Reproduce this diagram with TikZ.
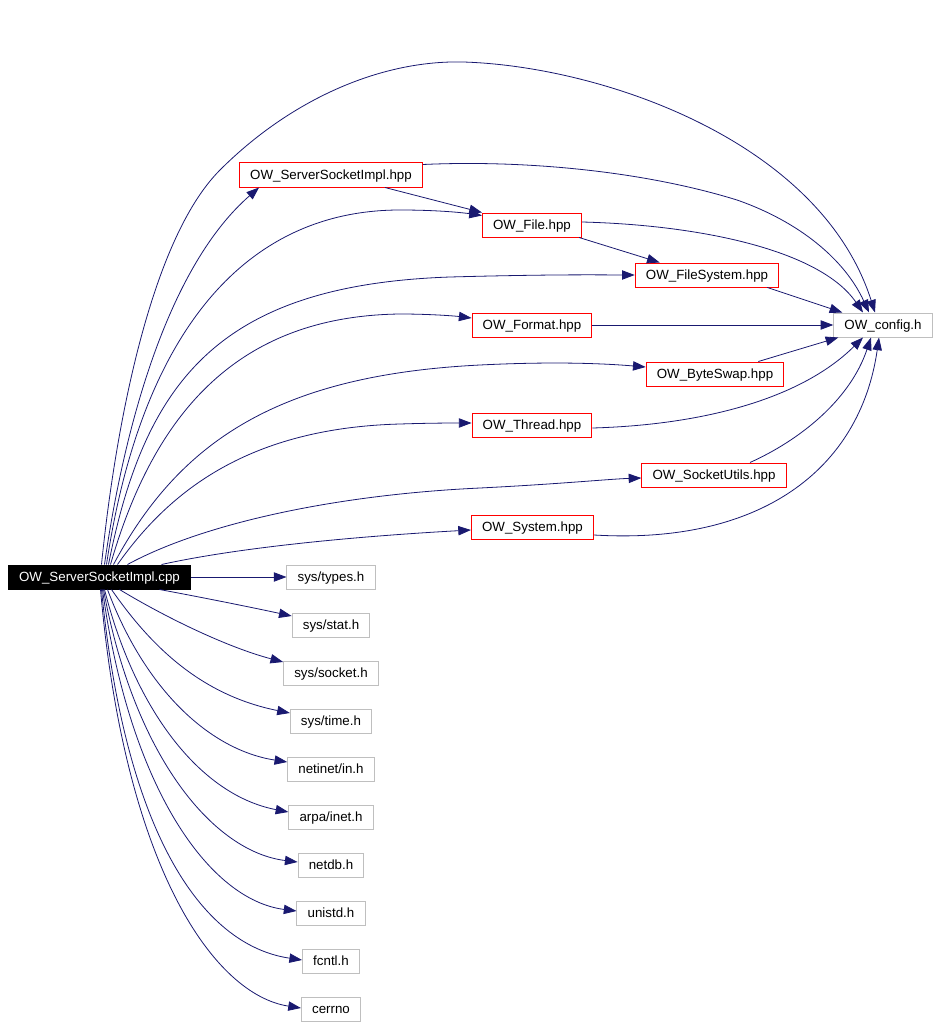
\documentclass[tikz,border=0pt]{standalone}
\usepackage{fontspec}
\setmainfont{Liberation Sans}
\usetikzlibrary{calc, arrows.meta}

\definecolor{edgeblue}{HTML}{191970}
\definecolor{incgrey}{HTML}{BFBFBF}

\begin{document}
\begin{tikzpicture}[
    x=0.75pt, y=-0.75pt,
    >={Triangle[length=9.5pt, width=7pt]},
    font=\fontsize{10}{12}\selectfont,
    box/.style={draw, rectangle, line width=0.75pt, minimum height=18pt, inner xsep=8pt, inner ysep=0pt, text height=8pt, text depth=1pt},
    hdrbox/.style={box, draw=red, fill=white},
    sysbox/.style={box, draw=incgrey, fill=white},
    rootbox/.style={box, draw=black, fill=black, text=white},
    dep/.style={->, draw=edgeblue, line width=0.6pt},
]
    \useasboundingbox (0,0) rectangle (939,1027);

    % Headers of the project
    \node[rootbox] (root) at (99.5,577) {OW\_ServerSocketImpl.cpp};
    \node[hdrbox] (ssh) at (331,175) {OW\_ServerSocketImpl.hpp};
    \node[hdrbox] (file) at (532,225) {OW\_File.hpp};
    \node[hdrbox] (fs) at (707,275) {OW\_FileSystem.hpp};
    \node[sysbox] (config) at (883,325) {OW\_config.h};
    \node[hdrbox] (format) at (532,325) {OW\_Format.hpp};
    \node[hdrbox] (bswap) at (715,374) {OW\_ByteSwap.hpp};
    \node[hdrbox] (thread) at (532,425) {OW\_Thread.hpp};
    \node[hdrbox] (sutils) at (714,475) {OW\_SocketUtils.hpp};
    \node[hdrbox] (system) at (532.5,527) {OW\_System.hpp};

    % System headers
    \foreach \n/\t [count=\k from 0] in {types/{sys/types.h}, stat/{sys/stat.h}, socket/{sys/socket.h}, time/{sys/time.h}, inet/{netinet/in.h}, arpa/{arpa/inet.h}, netdb/{netdb.h}, unistd/{unistd.h}, fcntl/{fcntl.h}, cerrno/{cerrno}} {
        \node[sysbox] (\n) at (331,{577+48*\k}) {\t};
    }

    % Upward edges from the source
    \draw[dep] ($(root.north)+(2,0)$) .. controls (115,430) and (150,240) .. (220,170)
        .. controls (290,100) and (380,60) .. (463,62)
        .. controls (600,66) and (820,140) .. ($(config.north)+(-8,0)$);
    \draw[dep] ($(root.north)+(5,0)$) .. controls (125,420) and (170,265) .. ($(ssh.south west)+(20,0)$);
    \draw[dep] ($(root.north)+(7,0)$) .. controls (140,340) and (240,210) .. (400,210)
        .. controls (440,210) and (465,213) .. ($(file.north west)+(0,3)$);
    \draw[dep] ($(root.north)+(9,0)$) .. controls (145,380) and (220,285) .. (450,277)
        .. controls (560,274) and (610,275) .. (fs.west);
    \draw[dep] ($(root.north)+(11,0)$) .. controls (155,410) and (240,316) .. (400,314)
        .. controls (430,314) and (455,316) .. ($(format.west)+(0,-7)$);
    \draw[dep] ($(root.north)+(14,0)$) .. controls (180,440) and (280,375) .. (480,365)
        .. controls (560,361) and (610,364) .. ($(bswap.west)+(0,-7)$);
    \draw[dep] ($(root.north)+(18,0)$) .. controls (170,490) and (250,428) .. (400,424)
        .. controls (430,423) and (455,423) .. ($(thread.west)+(0,-2)$);
    \draw[dep] ($(root.north)+(28,0)$) .. controls (200,525) and (330,495) .. (480,488)
        .. controls (560,484) and (610,479) .. ($(sutils.west)+(0,3)$);
    \draw[dep] ($(root.north)+(62,0)$) .. controls (250,545) and (380,535) .. ($(system.west)+(0,3)$);

    % Between project headers
    \draw[dep] ($(ssh.south east)+(-38,0)$) -- (file.north west);
    \draw[dep] ($(file.south east)+(-3,0)$) -- ($(fs.north west)+(25,0)$);
    \draw[dep] ($(ssh.north east)+(0,2)$) .. controls (520,160) and (640,170) .. (737,200)
        .. controls (800,222) and (845,260) .. ($(config.north)+(-14,0)$);
    \draw[dep] ($(file.east)+(0,-3)$) .. controls (700,225) and (820,250) .. ($(config.north)+(-20,0)$);
    \draw[dep] ($(fs.south east)+(-12,0)$) -- ($(config.north west)+(9,0)$);
    \draw[dep] (format.east) -- (config.west);
    \draw[dep] ($(bswap.north east)+(-26,0)$) -- ($(config.south west)+(5,0)$);
    \draw[dep] ($(thread.east)+(0,3)$) .. controls (700,425) and (800,400) .. ($(config.south)+(-20,0)$);
    \draw[dep] ($(sutils.north)+(36,0)$) .. controls (800,440) and (850,400) .. ($(config.south)+(-12,0)$);
    \draw[dep] ($(system.east)+(0,8)$) .. controls (760,545) and (860,470) .. ($(config.south)+(-4,0)$);

    % Downward edges from the source
    \draw[dep] (root.east) -- (types.west);
    \draw[dep] ($(root.south)+(60,0)$) .. controls (200,597) and (250,607) .. ($(stat.west)+(0,-9)$);
    \draw[dep] ($(root.south)+(20,0)$) .. controls (170,620) and (230,648) .. ($(socket.west)+(0,-11)$);
    \draw[dep] ($(root.south)+(12,0)$) .. controls (150,645) and (200,695) .. ($(time.west)+(0,-8)$);
    \draw[dep] ($(root.south)+(8,0)$) .. controls (145,690) and (210,750) .. ($(inet.west)+(0,-7)$);
    \draw[dep] ($(root.south)+(5,0)$) .. controls (135,710) and (200,795) .. ($(arpa.west)+(0,-5)$);
    \draw[dep] ($(root.south)+(4,0)$) .. controls (135,760) and (215,852) .. ($(netdb.west)+(0,-3)$);
    \draw[dep] ($(root.south)+(3,0)$) .. controls (130,790) and (210,900) .. ($(unistd.west)+(0,-2)$);
    \draw[dep] ($(root.south)+(2,0)$) .. controls (125,830) and (200,945) .. ($(fcntl.west)+(0,-1)$);
    \draw[dep] ($(root.south)+(1,0)$) .. controls (125,870) and (215,995) .. ($(cerrno.west)+(0,-1)$);
\end{tikzpicture}
\end{document}
